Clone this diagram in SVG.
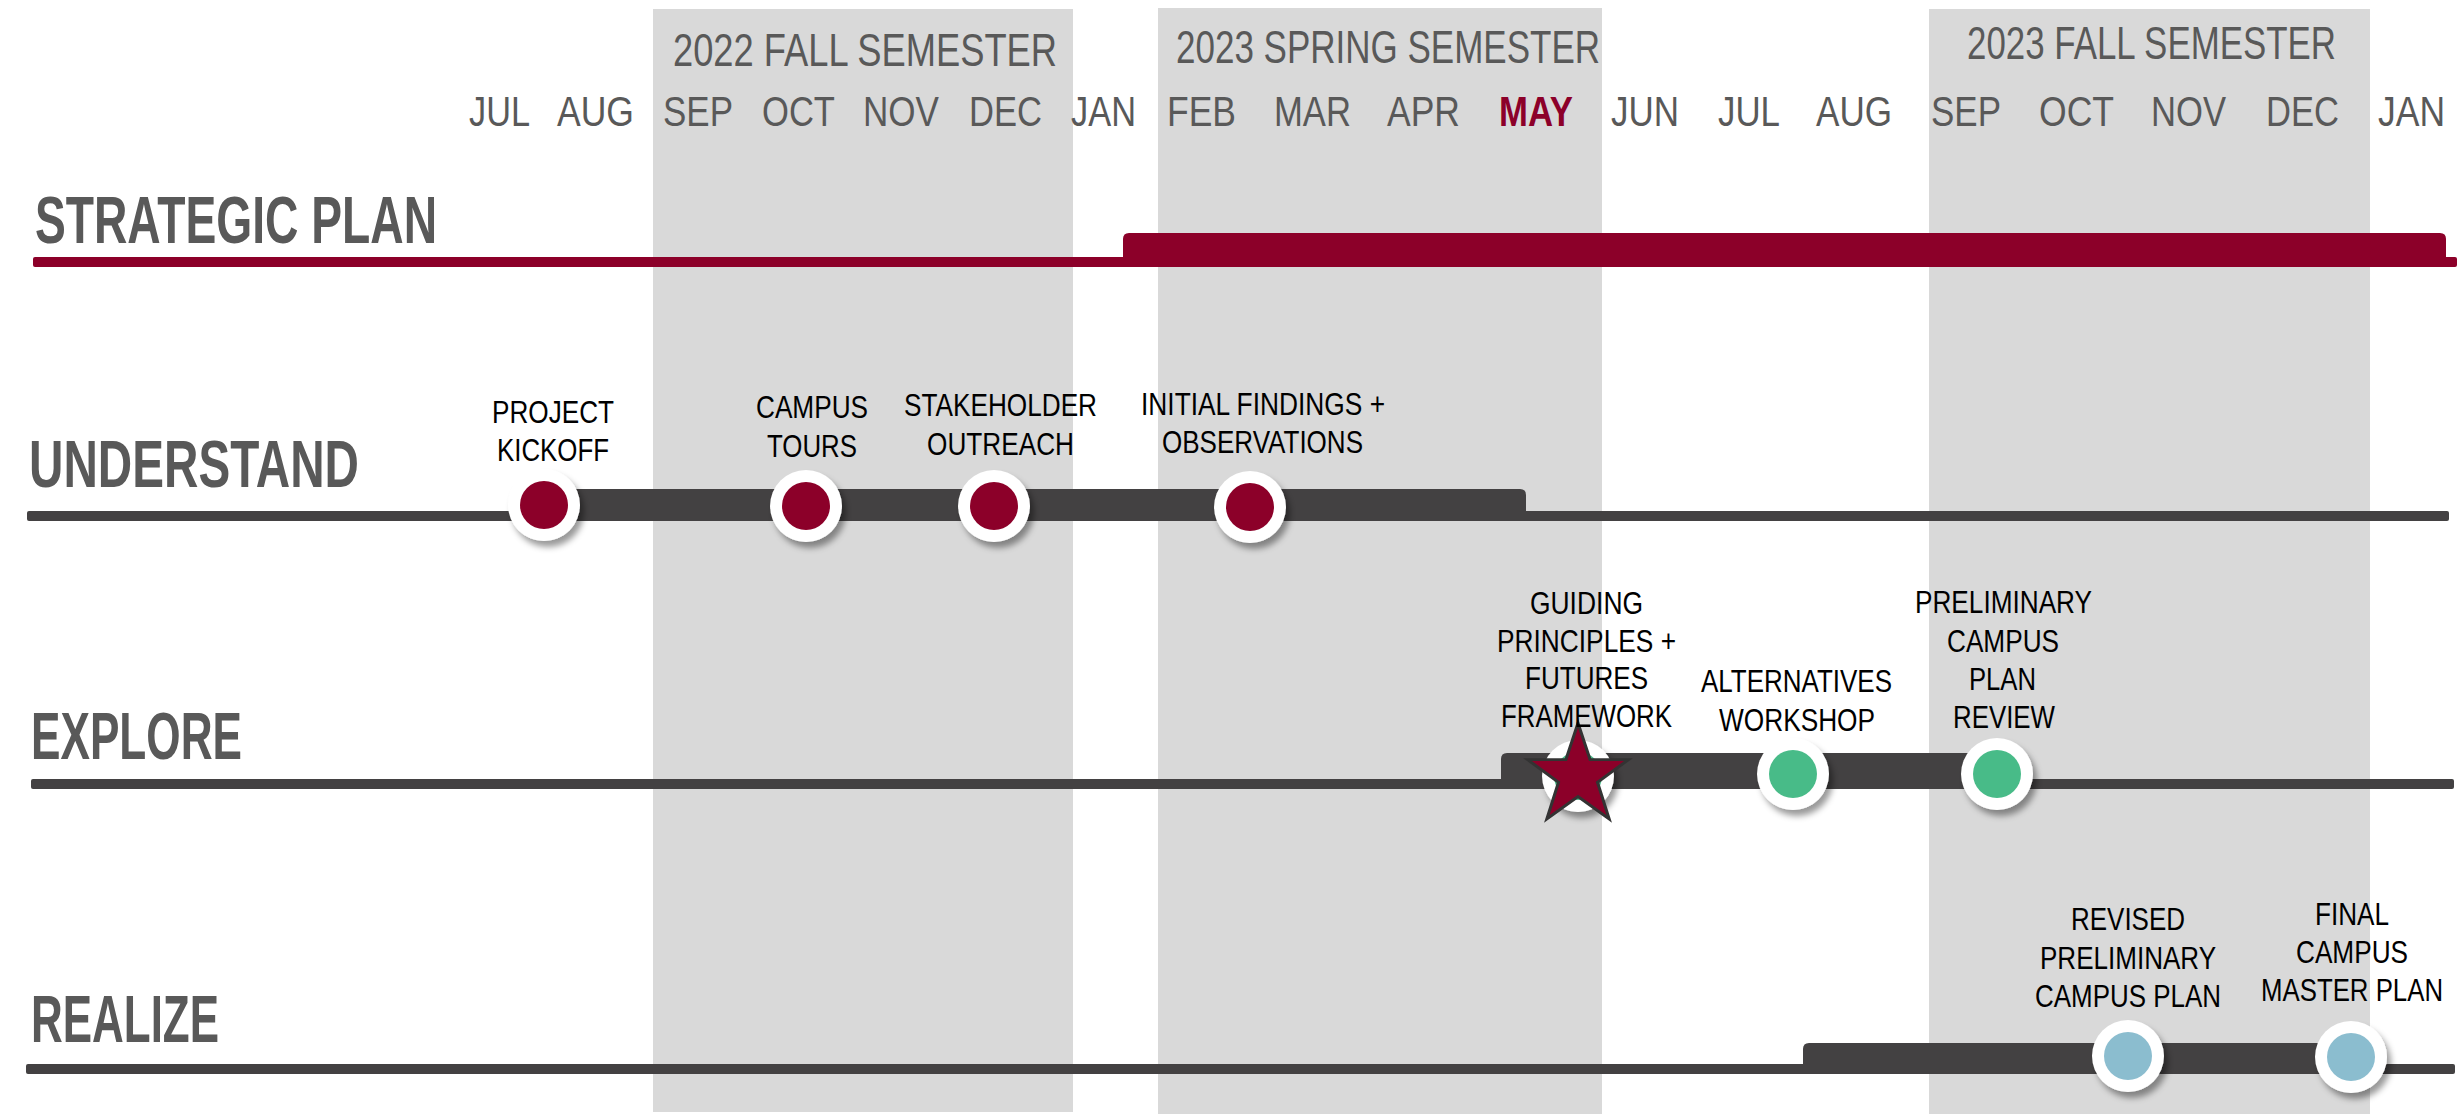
<svg xmlns="http://www.w3.org/2000/svg" width="2459" height="1117" viewBox="0 0 2459 1117">
<defs>
<style>
.band{fill:#D9D9D9}
.sem{font-family:"Liberation Sans",Arial,sans-serif;font-size:46px;fill:#595959}
.mon{font-family:"Liberation Sans",Arial,sans-serif;font-size:43px;fill:#595959}
.may{fill:#8C0029}
.ttl{font-family:"Liberation Sans",Arial,sans-serif;font-size:66px;font-weight:bold;fill:#595959}
.lbl{font-family:"Liberation Sans",Arial,sans-serif;font-size:32px;fill:#000}
.bar{fill:#434142}
.red{fill:#8C0029}
.ring{fill:#FFFFFF}
.cRed{fill:#8C0029}
.cGreen{fill:#48BB88}
.cBlue{fill:#8BBDCF}
</style>
<filter id="sh" x="-50%" y="-50%" width="200%" height="200%">
<feDropShadow dx="4" dy="6" stdDeviation="3" flood-color="#000" flood-opacity="0.4"/>
</filter>
</defs>
<rect width="2459" height="1117" fill="#FFFFFF"/>
<g id="bands">
<rect class="band" x="653" y="9" width="420" height="1103"/>
<rect class="band" x="1158" y="8" width="444" height="1106"/>
<rect class="band" x="1929" y="9" width="441" height="1105"/>
</g>
<g id="header">
<text class="sem" x="673" y="66" textLength="384" lengthAdjust="spacingAndGlyphs">2022 FALL SEMESTER</text>
<text class="sem" x="1176" y="63" textLength="424" lengthAdjust="spacingAndGlyphs">2023 SPRING SEMESTER</text>
<text class="sem" x="1967" y="59" textLength="369" lengthAdjust="spacingAndGlyphs">2023 FALL SEMESTER</text>
<text class="mon" x="469" y="126" textLength="61" lengthAdjust="spacingAndGlyphs">JUL</text>
<text class="mon" x="557" y="126" textLength="77" lengthAdjust="spacingAndGlyphs">AUG</text>
<text class="mon" x="663" y="126" textLength="70" lengthAdjust="spacingAndGlyphs">SEP</text>
<text class="mon" x="762" y="126" textLength="73" lengthAdjust="spacingAndGlyphs">OCT</text>
<text class="mon" x="863" y="126" textLength="76" lengthAdjust="spacingAndGlyphs">NOV</text>
<text class="mon" x="969" y="126" textLength="73" lengthAdjust="spacingAndGlyphs">DEC</text>
<text class="mon" x="1071" y="126" textLength="65" lengthAdjust="spacingAndGlyphs">JAN</text>
<text class="mon" x="1167" y="126" textLength="69" lengthAdjust="spacingAndGlyphs">FEB</text>
<text class="mon" x="1274" y="126" textLength="77" lengthAdjust="spacingAndGlyphs">MAR</text>
<text class="mon" x="1387" y="126" textLength="73" lengthAdjust="spacingAndGlyphs">APR</text>
<text class="mon may" x="1499" y="126" textLength="74" lengthAdjust="spacingAndGlyphs" font-weight="bold">MAY</text>
<text class="mon" x="1611" y="126" textLength="68" lengthAdjust="spacingAndGlyphs">JUN</text>
<text class="mon" x="1718" y="126" textLength="62" lengthAdjust="spacingAndGlyphs">JUL</text>
<text class="mon" x="1816" y="126" textLength="76" lengthAdjust="spacingAndGlyphs">AUG</text>
<text class="mon" x="1931" y="126" textLength="70" lengthAdjust="spacingAndGlyphs">SEP</text>
<text class="mon" x="2039" y="126" textLength="75" lengthAdjust="spacingAndGlyphs">OCT</text>
<text class="mon" x="2151" y="126" textLength="75" lengthAdjust="spacingAndGlyphs">NOV</text>
<text class="mon" x="2266" y="126" textLength="73" lengthAdjust="spacingAndGlyphs">DEC</text>
<text class="mon" x="2378" y="126" textLength="67" lengthAdjust="spacingAndGlyphs">JAN</text>
</g>
<g id="titles">
<text class="ttl" x="35" y="243" textLength="402" lengthAdjust="spacingAndGlyphs">STRATEGIC PLAN</text>
<text class="ttl" x="29" y="487" textLength="330" lengthAdjust="spacingAndGlyphs">UNDERSTAND</text>
<text class="ttl" x="31" y="759" textLength="211" lengthAdjust="spacingAndGlyphs">EXPLORE</text>
<text class="ttl" x="31" y="1042" textLength="188" lengthAdjust="spacingAndGlyphs">REALIZE</text>
</g>
<g id="connectors">
<rect class="red" x="33" y="257" width="2424" height="10" rx="2"/>
<path class="red" d="M1123 267 V239 Q1123 233 1129 233 H2440 Q2446 233 2446 239 V267 Z"/>
<rect class="bar" x="27" y="511" width="2422" height="10" rx="2"/>
<path class="bar" d="M544 521 V489 H1520 Q1526 489 1526 495 V521 Z"/>
<rect class="bar" x="31" y="779" width="2423" height="10" rx="2"/>
<path class="bar" d="M1501 789 V759 Q1501 753 1507 753 H1997 V789 Z"/>
<rect class="bar" x="26" y="1064" width="2429" height="10" rx="2"/>
<path class="bar" d="M1803 1074 V1049 Q1803 1043 1809 1043 H2351 V1074 Z"/>
</g>
<g id="project-kickoff">
<circle class="ring" cx="544" cy="505" r="36" filter="url(#sh)"/>
<circle class="cRed" cx="544" cy="505" r="24"/>
<text class="lbl" x="492" y="423" textLength="122" lengthAdjust="spacingAndGlyphs">PROJECT</text>
<text class="lbl" x="497" y="461" textLength="112" lengthAdjust="spacingAndGlyphs">KICKOFF</text>
</g>
<g id="campus-tours">
<circle class="ring" cx="806" cy="506" r="36" filter="url(#sh)"/>
<circle class="cRed" cx="806" cy="506" r="24"/>
<text class="lbl" x="756" y="418" textLength="112" lengthAdjust="spacingAndGlyphs">CAMPUS</text>
<text class="lbl" x="767" y="457" textLength="90" lengthAdjust="spacingAndGlyphs">TOURS</text>
</g>
<g id="stakeholder-outreach">
<circle class="ring" cx="994" cy="506" r="36" filter="url(#sh)"/>
<circle class="cRed" cx="994" cy="506" r="24"/>
<text class="lbl" x="904" y="416" textLength="193" lengthAdjust="spacingAndGlyphs">STAKEHOLDER</text>
<text class="lbl" x="927" y="455" textLength="147" lengthAdjust="spacingAndGlyphs">OUTREACH</text>
</g>
<g id="initial-findings">
<circle class="ring" cx="1250" cy="507" r="36" filter="url(#sh)"/>
<circle class="cRed" cx="1250" cy="507" r="24"/>
<text class="lbl" x="1141" y="415" textLength="244" lengthAdjust="spacingAndGlyphs">INITIAL FINDINGS +</text>
<text class="lbl" x="1162" y="453" textLength="201" lengthAdjust="spacingAndGlyphs">OBSERVATIONS</text>
</g>
<g id="guiding-principles">
<circle class="ring" cx="1578" cy="776" r="36" filter="url(#sh)"/>
<circle class="cGreen" cx="1578" cy="776" r="24"/>
<path d="M1578 723 L1590.05 759.42 L1628.41 759.62 L1597.5 782.33 L1609.15 818.88 L1578 796.5 L1546.85 818.88 L1558.5 782.33 L1527.59 759.62 L1565.95 759.42 Z" fill="#8C0029" stroke="#333333" stroke-width="3" stroke-linejoin="miter"/>
<text class="lbl" x="1530" y="614" textLength="113" lengthAdjust="spacingAndGlyphs">GUIDING</text>
<text class="lbl" x="1497" y="652" textLength="179" lengthAdjust="spacingAndGlyphs">PRINCIPLES +</text>
<text class="lbl" x="1525" y="689" textLength="123" lengthAdjust="spacingAndGlyphs">FUTURES</text>
<text class="lbl" x="1501" y="727" textLength="171" lengthAdjust="spacingAndGlyphs">FRAMEWORK</text>
</g>
<g id="alternatives-workshop">
<circle class="ring" cx="1793" cy="774" r="36" filter="url(#sh)"/>
<circle class="cGreen" cx="1793" cy="774" r="24"/>
<text class="lbl" x="1701" y="692" textLength="191" lengthAdjust="spacingAndGlyphs">ALTERNATIVES</text>
<text class="lbl" x="1719" y="731" textLength="156" lengthAdjust="spacingAndGlyphs">WORKSHOP</text>
</g>
<g id="preliminary-review">
<circle class="ring" cx="1997" cy="774" r="36" filter="url(#sh)"/>
<circle class="cGreen" cx="1997" cy="774" r="24"/>
<text class="lbl" x="1915" y="613" textLength="177" lengthAdjust="spacingAndGlyphs">PRELIMINARY</text>
<text class="lbl" x="1947" y="652" textLength="112" lengthAdjust="spacingAndGlyphs">CAMPUS</text>
<text class="lbl" x="1969" y="690" textLength="67" lengthAdjust="spacingAndGlyphs">PLAN</text>
<text class="lbl" x="1953" y="728" textLength="102" lengthAdjust="spacingAndGlyphs">REVIEW</text>
</g>
<g id="revised-plan">
<circle class="ring" cx="2128" cy="1056" r="36" filter="url(#sh)"/>
<circle class="cBlue" cx="2128" cy="1056" r="24"/>
<text class="lbl" x="2071" y="930" textLength="114" lengthAdjust="spacingAndGlyphs">REVISED</text>
<text class="lbl" x="2040" y="969" textLength="176" lengthAdjust="spacingAndGlyphs">PRELIMINARY</text>
<text class="lbl" x="2035" y="1007" textLength="186" lengthAdjust="spacingAndGlyphs">CAMPUS PLAN</text>
</g>
<g id="final-master-plan">
<circle class="ring" cx="2351" cy="1057" r="36" filter="url(#sh)"/>
<circle class="cBlue" cx="2351" cy="1057" r="24"/>
<text class="lbl" x="2315" y="925" textLength="74" lengthAdjust="spacingAndGlyphs">FINAL</text>
<text class="lbl" x="2296" y="963" textLength="112" lengthAdjust="spacingAndGlyphs">CAMPUS</text>
<text class="lbl" x="2261" y="1001" textLength="182" lengthAdjust="spacingAndGlyphs">MASTER PLAN</text>
</g>
</svg>
